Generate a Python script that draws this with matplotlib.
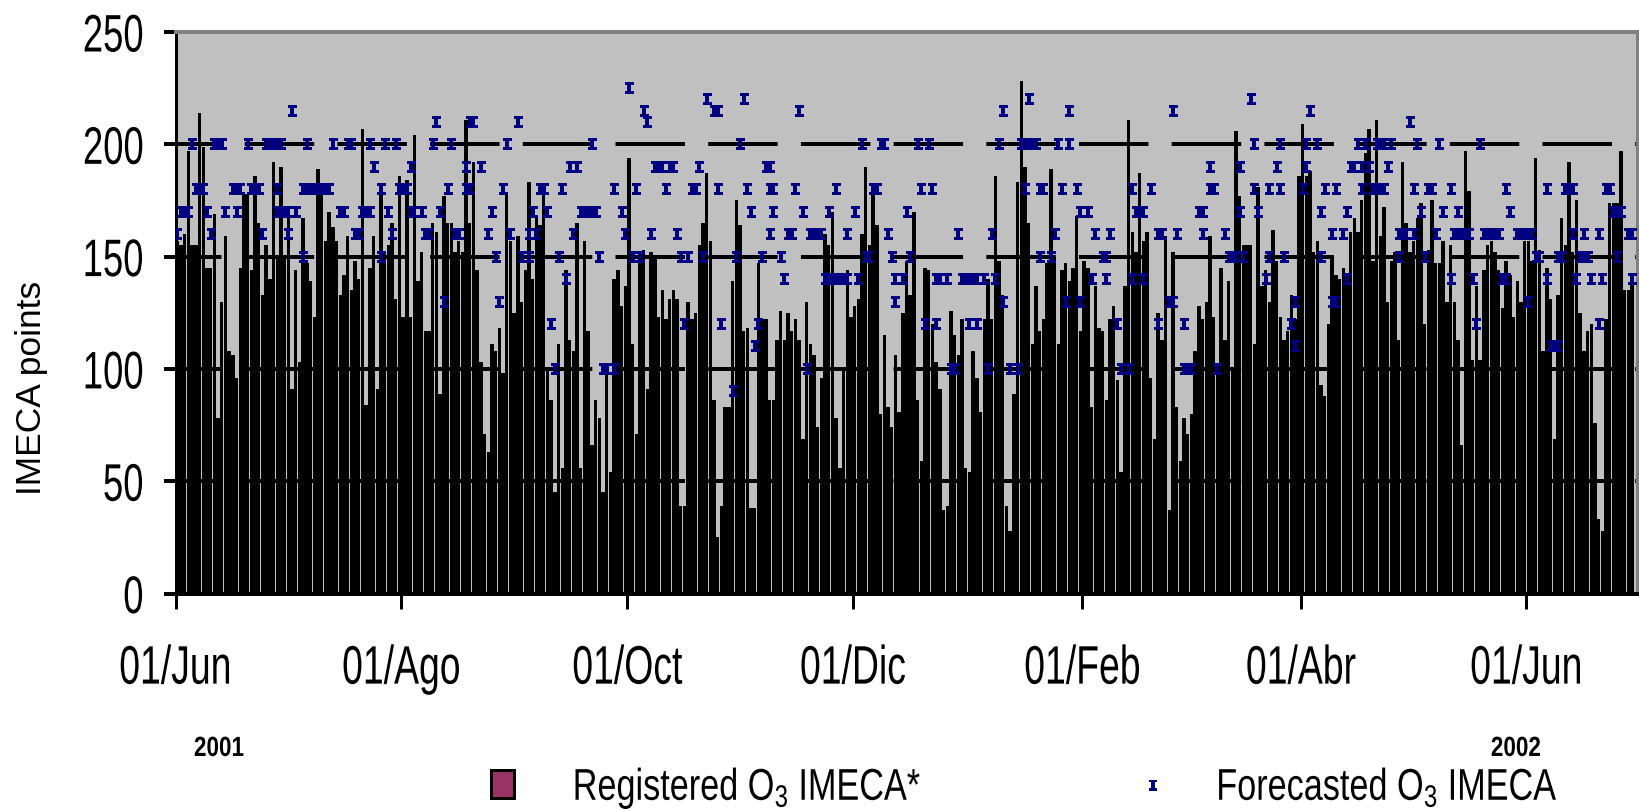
import numpy as np
import matplotlib
matplotlib.use("Agg")
import matplotlib.pyplot as plt
from matplotlib.path import Path
from matplotlib.patches import Rectangle
from matplotlib.lines import Line2D
from matplotlib.patheffects import AbstractPathEffect
from matplotlib.transforms import Affine2D

plt.rcParams['font.family'] = ['Liberation Sans']
plt.rcParams['mathtext.default'] = 'regular'
plt.rcParams['lines.scale_dashes'] = False

# Registered O3 IMECA, one value per day from 01/Jun/2001
registered = [
    157,155,160,197,155,155,214,199,145,145,
    169,78,130,159,108,106,96,145,178,178,
    144,186,165,133,155,140,192,150,190,150,
    168,91,144,103,167,147,139,123,189,178,
    157,170,163,157,133,142,159,135,148,140,
    207,84,145,159,91,180,152,155,165,131,
    186,123,184,123,204,139,152,117,117,165,
    161,89,177,165,165,152,157,152,211,165,
    192,144,103,71,63,111,108,118,98,178,
    157,125,159,130,144,183,140,168,164,178,
    100,86,45,111,56,144,113,108,165,56,
    157,117,66,86,78,45,99,54,140,144,
    128,137,194,111,71,152,153,91,152,150,
    123,135,122,131,135,131,39,39,130,122,
    125,155,165,187,157,86,25,39,83,83,
    139,175,164,117,118,38,38,147,122,122,
    86,86,113,126,113,125,117,122,113,69,
    130,111,106,74,96,160,155,170,78,56,
    100,144,123,128,131,160,190,155,178,164,
    80,115,83,74,106,81,125,148,133,170,
    86,59,145,144,120,103,91,37,39,126,
    115,106,122,56,54,108,96,81,122,140,
    122,186,148,133,39,28,89,183,228,190,
    165,111,137,117,122,147,189,150,111,144,
    147,139,145,168,117,148,145,83,137,118,
    117,86,122,128,95,54,137,211,161,152,
    187,157,161,96,69,125,113,159,37,152,
    83,59,78,71,80,108,128,122,130,159,
    123,100,145,113,139,100,206,177,155,155,
    155,111,181,137,144,130,162,148,123,113,
    117,133,122,186,209,186,188,152,157,93,
    88,120,150,142,140,145,140,161,167,161,
    175,196,207,148,211,159,172,130,148,152,
    113,192,165,152,157,167,174,120,153,175,
    147,147,157,130,155,130,113,66,197,179,
    104,137,104,144,155,157,152,144,127,148,
    142,123,139,130,157,157,148,194,153,108,
    145,131,69,133,167,155,192,152,175,125,
    108,117,120,76,33,28,122,174,174,174,
    197,135,135,138,
]

# Forecasted O3 IMECA: days (counted from 01/Jun/2001) for each forecast level
fc_225 = [122]
fc_220 = [143,153,230,290]
fc_215 = [31,126,145,146,168,223,241,269,306]
fc_210 = [70,79,80,92,127,333]
fc_200 = [4,10,11,12,19,24,25,26,27,28,35,42,46,47,52,56,59,69,74,89,112,152,185,190,191,200,203,222,
          228,229,230,231,232,238,241,291,298,305,308,319,321,324,325,326,328,335,341,352]
fc_190 = [53,63,78,82,106,108,129,130,131,133,134,141,159,160,279,287,297,305,317,318,320,322,327]
fc_180 = [5,6,7,15,16,17,20,21,22,27,34,35,36,37,38,39,40,41,55,60,61,62,73,78,79,88,98,99,104,118,124,
          132,139,140,146,154,160,161,167,178,188,189,201,204,229,233,234,239,243,258,263,279,280,291,295,
          298,304,310,313,320,323,324,325,326,334,338,339,344,359,370,375,376,377,386,387]
fc_170 = [1,2,3,8,13,16,27,28,29,30,32,44,45,50,51,52,57,63,64,66,71,85,96,100,109,110,111,112,113,120,155,
          161,169,176,183,197,244,246,259,260,261,276,277,287,292,309,316,336,342,346,360,388,389,390]
fc_160 = [0,9,23,30,48,49,58,67,68,75,76,84,90,95,97,107,121,128,135,160,165,166,171,172,173,174,181,192,
          211,220,237,248,252,265,266,270,277,283,312,315,330,331,332,334,340,345,346,347,348,349,353,354,
          355,356,357,362,363,364,365,366,377,380,384,392,393]
fc_150 = [34,55,86,93,95,103,114,123,125,136,138,142,151,158,163,186,187,193,198,233,236,250,251,284,285,
          286,288,295,299,309,330,337,367,368,373,374,379,380,381,389]
fc_140 = [105,164,175,176,177,178,179,180,181,184,194,196,205,206,208,212,213,214,215,216,218,221,247,251,
          258,261,294,316,344,350,358,359,370,378,382,385,393]
fc_130 = [72,87,194,223,240,244,268,269,302,312,313,365]
fc_120 = [101,137,147,157,202,205,214,216,254,265,272,301,351,384]
fc_110 = [156,302,371,372,373]
fc_100 = [102,115,116,118,170,209,210,219,225,227,255,257,272,273,274,281]
fc_90 = [150]
forecast_levels = [225,220,215,210,200,190,180,170,160,150,140,130,120,110,100,90]
forecast_days = [fc_225,fc_220,fc_215,fc_210,fc_200,fc_190,fc_180,fc_170,fc_160,fc_150,fc_140,fc_130,
                 fc_120,fc_110,fc_100,fc_90]

x_tick_days = [0,61,122,183,245,304,365]
x_tick_labels = ['01/Jun','01/Ago','01/Oct','01/Dic','01/Feb','01/Abr','01/Jun']
y_ticks = [0,50,100,150,200,250]


class Squeeze(AbstractPathEffect):
    """Narrows real text horizontally, as in the stretched reference."""
    def __init__(self, sx, anchor='center'):
        super().__init__()
        self.sx = sx
        self.anchor = anchor

    def draw_path(self, renderer, gc, tpath, affine, rgbFace=None):
        bb = tpath.get_extents(affine)
        cx = {'left': bb.x0, 'right': bb.x1, 'center': 0.5*(bb.x0+bb.x1)}[self.anchor]
        renderer.draw_path(gc, tpath, affine + Affine2D().translate(-cx, 0).scale(self.sx, 1).translate(cx, 0), rgbFace)


W, H = 1639, 811
px = 72/100
fig = plt.figure(figsize=(W/100, H/100), dpi=100, facecolor='white')
ax = fig.add_axes([175.5/W, 1-593.5/H, (1637.5-175.5)/W, (593.5-32)/H])
ax.set_facecolor('#C0C0C0')
ax.set_xlim(0, 395)
ax.set_ylim(0, 250)

days = np.arange(len(registered))
ax.bar(days+0.5, registered, width=0.92, color='black', linewidth=0, antialiased=False, zorder=1)

ax.set_yticks(y_ticks)
ax.set_xticks(x_tick_days)
ax.set_xticklabels(x_tick_labels)
ax.grid(axis='y', color='black', linewidth=4*px, linestyle=(24*px, (69.5*px, 23.2*px)))
ax.set_axisbelow('line')

ibeam = Path([(-4.5,6),(4.5,6),(4.5,3),(1.75,3),(1.75,-3),(4.5,-3),(4.5,-6),(-4.5,-6),(-4.5,-3),(-1.75,-3),(-1.75,3),(-4.5,3),(-4.5,6)], closed=True)
xs, ys = [], []
for level, dlist in zip(forecast_levels, forecast_days):
    xs += [d+0.5 for d in dlist]
    ys += [level]*len(dlist)
ax.plot(xs, ys, linestyle='none', marker=ibeam, markersize=12*px, markerfacecolor='#000080',
        markeredgewidth=0, antialiased=False, zorder=3)

for s in ['left','bottom']:
    ax.spines[s].set_color('black')
ax.spines['left'].set_linewidth(3*px)
ax.spines['bottom'].set_linewidth(4*px)
for s in ['top','right']:
    ax.spines[s].set_color('#808080')
    ax.spines[s].set_linewidth(4*px)

ax.tick_params(axis='y', length=12*px, width=4*px, pad=14, labelsize=38)
ax.tick_params(axis='x', length=15*px, width=3*px, pad=26, labelsize=39)
for t in ax.get_yticklabels():
    t.set_path_effects([Squeeze(0.69, 'right')])
for t in ax.get_xticklabels():
    t.set_path_effects([Squeeze(0.69, 'center')])

fig.text(32/W, 1-388/H, 'IMECA points', rotation=90, ha='center', va='center', fontsize=25.5)
for txt, xc in [('2001', 219), ('2002', 1516)]:
    fig.text(xc/W, 1-749/H, txt, ha='center', va='center', fontsize=20, fontweight='bold',
             path_effects=[Squeeze(0.81, 'center')])

fig.add_artist(Rectangle((490.5/W, 1-798/H), 23/W, 28/H, transform=fig.transFigure,
                         facecolor='#993366', edgecolor='black', linewidth=3*px))
fig.add_artist(Line2D([1153/W], [1-785/H], transform=fig.transFigure, linestyle='none', marker=ibeam,
                      markersize=11*px, markerfacecolor='#000080', markeredgewidth=0))
fig.text(747/W, 1-800/H, 'Registered O$_3$ IMECA*', ha='center', va='baseline', fontsize=32,
         path_effects=[Squeeze(0.77, 'center')])
fig.text(1387/W, 1-800/H, 'Forecasted O$_3$ IMECA', ha='center', va='baseline', fontsize=32,
         path_effects=[Squeeze(0.77, 'center')])

fig.savefig('out.png', dpi=100)
